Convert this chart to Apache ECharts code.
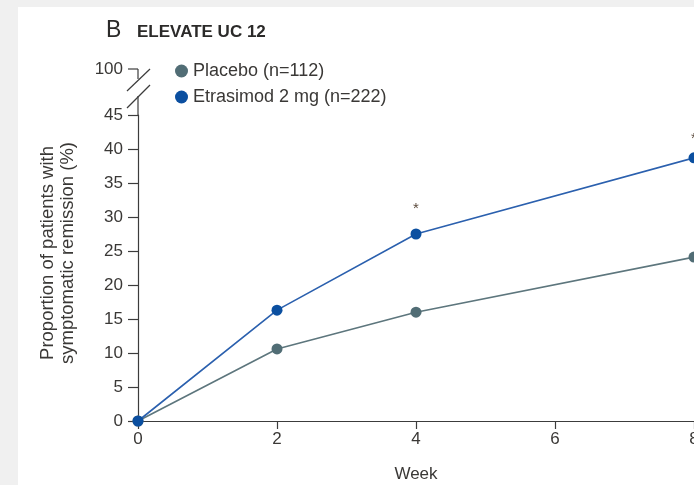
<!DOCTYPE html>
<html>
<head>
<meta charset="utf-8">
<script src="https://cdn.jsdelivr.net/npm/echarts@6/dist/echarts.min.js"></script>
<style>
  html, body { margin: 0; padding: 0; background: #f0f0f0; }
  #chart { width: 694px; height: 485px; }
</style>
</head>
<body>
<div id="chart"></div>
<script>
// Symptomatic remission over time, ELEVATE UC 12
const weeks = [0, 2, 4, 8];
const xTicks = [0, 2, 4, 6, 8];
const placeboName = 'Placebo (n=112)';
const etrasimodName = 'Etrasimod 2 mg (n=222)';
const placebo = [0, 10.6, 16.0, 24.1];
const etrasimod = [0, 16.3, 27.5, 38.7];
// weeks with a significant difference (asterisk above the etrasimod point)
const significant = [false, false, true, true];
const yTopLabel = '100';

const FONT = '"Liberation Sans", "Noto Sans", sans-serif';
const TXT = '#3a3836';
const AXIS = '#3c3c3c';
const C_PLA = '#516d75';
const C_ETR = '#0b4fa0';

const chart = echarts.init(document.getElementById('chart'), null, { renderer: 'canvas' });

const etrData = weeks.map((w, i) => ({
  value: [w, etrasimod[i]],
  label: significant[i] ? {
    show: true, formatter: '*', position: 'top',
    distance: i === weeks.length - 1 ? 6 : 12,
    color: '#5b4a3c', fontSize: 15, fontFamily: FONT
  } : { show: false }
}));

chart.setOption({
  backgroundColor: '#f0f0f0',
  animation: false,
  textStyle: { fontFamily: FONT },
  grid: { left: 138, right: 0, top: 115, bottom: 64, containLabel: false, outerBoundsMode: 'none' },
  legend: {
    orient: 'vertical',
    left: 170, top: 57,
    icon: 'circle',
    itemWidth: 13, itemHeight: 13,
    itemGap: 8,
    textStyle: { fontSize: 18, color: TXT, fontFamily: FONT },
    data: [placeboName, etrasimodName]
  },
  xAxis: {
    type: 'value',
    min: 0, max: 8, interval: 2,
    name: 'Week',
    nameLocation: 'middle',
    nameGap: 45,
    nameTextStyle: { fontSize: 17, color: TXT, fontFamily: FONT },
    axisLine: { show: true, lineStyle: { color: AXIS, width: 1.2 } },
    axisTick: { show: true, inside: false, length: 8, lineStyle: { color: AXIS, width: 1.2 } },
    axisLabel: {
      fontSize: 17, color: TXT, margin: 10, fontFamily: FONT,
      formatter: v => xTicks.includes(v) ? String(v) : ''
    },
    splitLine: { show: false }
  },
  yAxis: {
    type: 'value',
    min: 0, max: 45, interval: 5,
    name: 'Proportion of patients with\nsymptomatic remission (%)',
    nameLocation: 'middle',
    nameGap: 60,
    nameTextStyle: { fontSize: 18.5, color: TXT, fontFamily: FONT, lineHeight: 20, padding: [0, 0, 0, 30] },
    axisLine: { show: true, lineStyle: { color: AXIS, width: 1.2 } },
    axisTick: { show: true, inside: false, length: 10, lineStyle: { color: AXIS, width: 1.2 } },
    axisLabel: { fontSize: 17, color: TXT, margin: 15, fontFamily: FONT },
    splitLine: { show: false }
  },
  series: [
    {
      name: placeboName,
      type: 'line',
      data: weeks.map((w, i) => [w, placebo[i]]),
      symbol: 'circle', symbolSize: 11,
      itemStyle: { color: C_PLA },
      lineStyle: { color: '#5d767d', width: 1.6 },
      z: 2
    },
    {
      name: etrasimodName,
      type: 'line',
      data: etrData,
      symbol: 'circle', symbolSize: 11,
      itemStyle: { color: C_ETR },
      lineStyle: { color: '#2b60ae', width: 1.6 },
      z: 3
    }
  ]
});

// Panel frame, title and the broken upper segment of the y axis
const x0 = chart.convertToPixel({ xAxisIndex: 0 }, 0);
const y45 = chart.convertToPixel({ yAxisIndex: 0 }, 45);
const yTop = y45 - 46;
const ax = { stroke: AXIS, lineWidth: 1.2 };

chart.setOption({
  graphic: [
    { type: 'rect', z: -10, silent: true,
      shape: { x: 18, y: 7, width: 694, height: 485 }, style: { fill: '#ffffff' } },
    { type: 'text', left: 106, top: 19, z: 5,
      style: { text: 'B', fontSize: 23, fontFamily: FONT, fill: '#2b2a29' } },
    { type: 'text', left: 137, top: 24, z: 5,
      style: { text: 'ELEVATE UC 12', fontSize: 17, fontWeight: 'bold', fontFamily: FONT, fill: '#2b2a29' } },
    // lower stub above 45
    { type: 'line', z: 5, shape: { x1: x0, y1: y45, x2: x0, y2: y45 - 19 }, style: ax },
    // double break slashes
    { type: 'line', z: 5, shape: { x1: x0 - 11, y1: y45 - 7, x2: x0 + 12, y2: y45 - 30 }, style: ax },
    { type: 'line', z: 5, shape: { x1: x0 - 11, y1: y45 - 24, x2: x0 + 12, y2: yTop }, style: ax },
    // top stub with tick at 100
    { type: 'line', z: 5, shape: { x1: x0, y1: yTop, x2: x0, y2: yTop + 10 }, style: ax },
    { type: 'line', z: 5, shape: { x1: x0 - 10, y1: yTop, x2: x0, y2: yTop }, style: ax },
    { type: 'text', z: 5, x: x0 - 15, y: yTop,
      style: { text: yTopLabel, fontSize: 17, fontFamily: FONT, fill: TXT, align: 'right', verticalAlign: 'middle' } }
  ]
});
</script>
</body>
</html>
